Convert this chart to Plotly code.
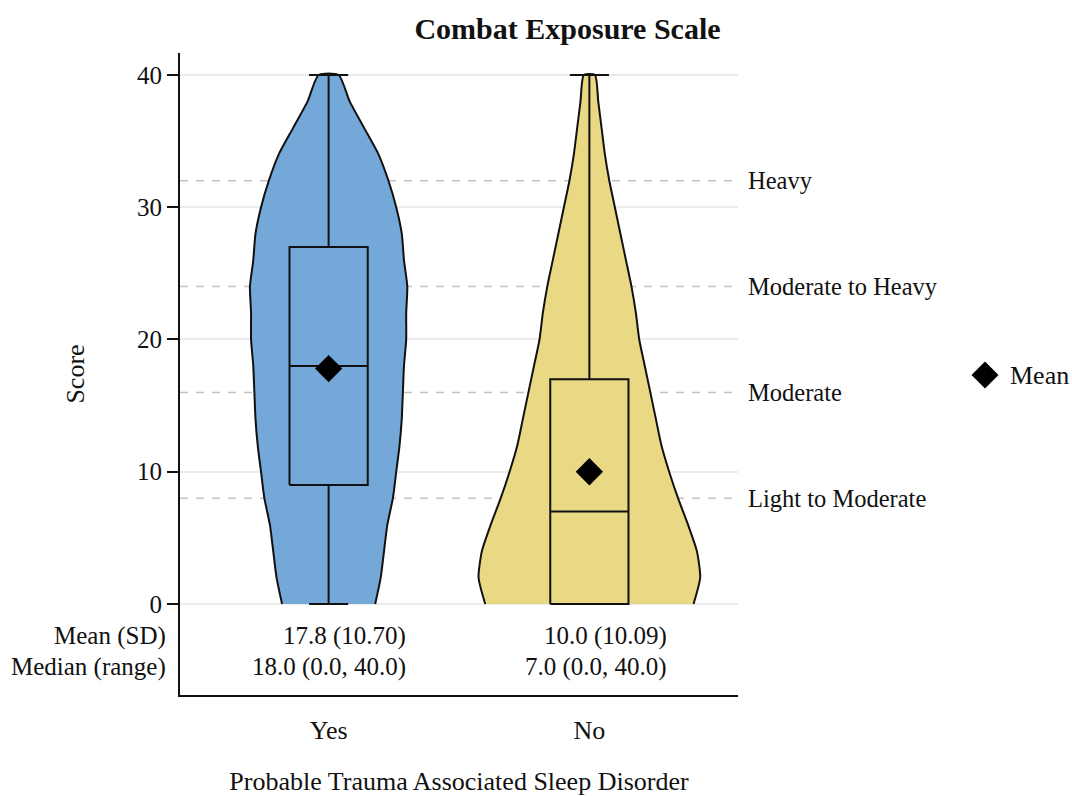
import plotly.graph_objects as go

# ---- data -------------------------------------------------------------
groups = ["Yes", "No"]
group_pos = [1, 2]
group_colors = ["#74a8d8", "#e9d884"]

# score grid for the density profiles
score_grid = [0, 2, 4, 6, 8, 10, 12, 14, 16, 18, 20,
              22, 24, 26, 28, 30, 32, 34, 36, 38, 40]
# relative kernel density (shared scale) along score_grid
density_yes = [0.42, 0.47, 0.50, 0.53, 0.58, 0.61, 0.64, 0.66, 0.67, 0.68, 0.70,
               0.70, 0.71, 0.68, 0.66, 0.61, 0.54, 0.45, 0.32, 0.19, 0.09]
density_no = [0.94, 1.00, 0.97, 0.89, 0.80, 0.72, 0.65, 0.60, 0.55, 0.50, 0.45,
              0.42, 0.38, 0.33, 0.28, 0.23, 0.18, 0.14, 0.11, 0.08, 0.05]
densities = [density_yes, density_no]

# summary statistics
q1 = [9.0, 0.0]
median = [18.0, 7.0]
q3 = [27.0, 17.0]
score_min = [0.0, 0.0]
score_max = [40.0, 40.0]
mean = [17.8, 10.0]
sd = [10.70, 10.09]

# combat exposure category cut points
cut_values = [8, 16, 24, 32]
cut_labels = ["Light to Moderate", "Moderate", "Moderate to Heavy", "Heavy"]

y_ticks = [0, 10, 20, 30, 40]

# ---- style ------------------------------------------------------------
FONT = "Liberation Serif, Times New Roman, serif"
INK = "#111111"
VIOLIN_HALF_WIDTH = 0.425   # half width (x units) at density 1.0
BOX_HALF = 0.15
CAP_HALF = 0.075
STATS_OFFSET = 0.305
SMOOTH = 0.6

fig = go.Figure()

for pos, dens, color in zip(group_pos, densities, group_colors):
    right = [pos + VIOLIN_HALF_WIDTH * d for d in dens]
    left = [pos - VIOLIN_HALF_WIDTH * d for d in dens]
    # filled body
    fig.add_trace(go.Scatter(
        x=right + left[::-1], y=score_grid + score_grid[::-1],
        mode="lines", fill="toself", fillcolor=color,
        line=dict(width=0, shape="spline", smoothing=SMOOTH),
        hoverinfo="skip", showlegend=False))
    # outline (open along the trimmed bottom)
    fig.add_trace(go.Scatter(
        x=left + right[::-1], y=score_grid + score_grid[::-1],
        mode="lines", line=dict(color=INK, width=2, shape="spline", smoothing=SMOOTH),
        hoverinfo="skip", showlegend=False))

# box-and-whisker from the summary statistics
for i, pos in enumerate(group_pos):
    lo_x, hi_x = pos - BOX_HALF, pos + BOX_HALF
    # whiskers and caps
    fig.add_trace(go.Scatter(
        x=[pos, pos, None, pos, pos, None,
           pos - CAP_HALF, pos + CAP_HALF, None, pos - CAP_HALF, pos + CAP_HALF],
        y=[q3[i], score_max[i], None, score_min[i], q1[i], None,
           score_max[i], score_max[i], None, score_min[i], score_min[i]],
        mode="lines", line=dict(color=INK, width=2),
        hoverinfo="skip", showlegend=False))
    # box
    fig.add_trace(go.Scatter(
        x=[lo_x, hi_x, hi_x, lo_x, lo_x],
        y=[q1[i], q1[i], q3[i], q3[i], q1[i]],
        mode="lines", fill="toself", fillcolor=group_colors[i],
        line=dict(color=INK, width=2), hoverinfo="skip", showlegend=False))
    # median
    fig.add_trace(go.Scatter(
        x=[lo_x, hi_x], y=[median[i], median[i]],
        mode="lines", line=dict(color=INK, width=2),
        hoverinfo="skip", showlegend=False))

# means
fig.add_trace(go.Scatter(
    x=group_pos, y=mean, mode="markers",
    marker=dict(symbol="diamond", size=21, color="black", line=dict(width=0)),
    name="Mean", showlegend=False))

shapes = []
annotations = []

# dashed category lines with labels
for v, lab in zip(cut_values, cut_labels):
    shapes.append(dict(type="line", xref="x domain", yref="y", x0=0, x1=1, y0=v, y1=v,
                       line=dict(color="#cbbfbf", width=1.5, dash="8px,8px"), layer="below"))
    annotations.append(dict(xref="x domain", yref="y", x=1, y=v, xanchor="left", yanchor="middle",
                            xshift=8, text=lab, showarrow=False,
                            font=dict(family=FONT, size=24.5, color=INK)))

# summary table beneath the violins
stat_rows = [
    ("Mean (SD)", [f"{m:.1f} ({s:.2f})" for m, s in zip(mean, sd)], -2.42),
    ("Median (range)", [f"{md:.1f} ({lo:.1f}, {hi:.1f})"
                        for md, lo, hi in zip(median, score_min, score_max)], -4.76),
]
for row_label, texts, yv in stat_rows:
    annotations.append(dict(xref="paper", yref="y", x=0, y=yv, xanchor="right", yanchor="middle",
                            xshift=-12, text=row_label, showarrow=False,
                            font=dict(family=FONT, size=25, color=INK)))
    for pos, t in zip(group_pos, texts):
        annotations.append(dict(xref="x", yref="y", x=pos + STATS_OFFSET, y=yv,
                                xanchor="right", yanchor="middle", text=t, showarrow=False,
                                font=dict(family=FONT, size=25, color=INK)))

# legend key for the mean marker
shapes.append(dict(type="path", xref="paper", yref="paper", xsizemode="pixel", ysizemode="pixel",
                   xanchor=1.4427, yanchor=0.4984,
                   path="M -13.5 0 L 0 13.5 L 13.5 0 L 0 -13.5 Z",
                   fillcolor="black", line=dict(width=0)))
annotations.append(dict(xref="paper", yref="paper", x=1.4839, y=0.4984, xanchor="left",
                        yanchor="middle", text="Mean", showarrow=False,
                        font=dict(family=FONT, size=26, color=INK)))

fig.update_layout(
    width=1072, height=796,
    margin=dict(l=180, r=334, t=53, b=101, autoexpand=False),
    paper_bgcolor="white", plot_bgcolor="white",
    font=dict(family=FONT, color=INK),
    title=dict(text="<b>Combat Exposure Scale</b>", x=0.5294, xref="container", xanchor="center",
               y=0.9648, yref="container", yanchor="middle",
               font=dict(family=FONT, size=30, color=INK)),
    showlegend=False,
    shapes=shapes,
    annotations=annotations,
    xaxis=dict(range=[0.43, 2.57], tickvals=group_pos, ticktext=groups, ticks="",
               showgrid=False, zeroline=False, showline=True, linecolor=INK, linewidth=2,
               automargin=False,
               tickfont=dict(family=FONT, size=26, color=INK), ticklabelstandoff=11,
               title=dict(text="Probable Trauma Associated Sleep Disorder", standoff=38,
                          font=dict(family=FONT, size=26, color=INK))),
    yaxis=dict(range=[-6.88, 41.66], tickvals=y_ticks, ticks="outside", ticklen=11, tickwidth=2,
               tickcolor=INK, showgrid=True, gridcolor="#ebebeb", gridwidth=1.5,
               zeroline=False, showline=True, linecolor=INK, linewidth=2,
               automargin=False,
               tickfont=dict(family=FONT, size=25, color=INK),
               title=dict(text="Score", standoff=45, font=dict(family=FONT, size=26, color=INK))),
)

fig.write_html("out.html")
